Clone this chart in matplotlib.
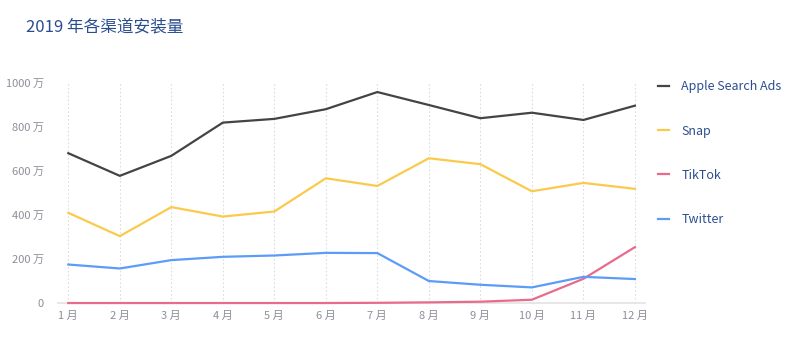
import matplotlib
matplotlib.use('Agg')
from matplotlib import pyplot as plt

plt.rcParams['font.family'] = ['Noto Sans CJK SC', 'DejaVu Sans']

months = ['1 月', '2 月', '3 月', '4 月', '5 月', '6 月',
          '7 月', '8 月', '9 月', '10 月', '11 月', '12 月']
apple = [681, 578, 669, 820, 837, 881, 959, 900, 840, 865, 832, 897]
snap = [410, 304, 436, 393, 416, 567, 532, 658, 631, 508, 546, 519]
tiktok = [0, 0, 0, 0, 0, 0, 1, 3, 6, 15, 110, 254]
twitter = [175, 157, 195, 210, 216, 228, 227, 100, 83, 71, 119, 109]
yticks = [0, 200, 400, 600, 800, 1000]
ytick_labels = ['0', '200 万', '400 万', '600 万', '800 万', '1000 万']

series = [('Apple Search Ads', apple, '#444444'),
          ('Snap', snap, '#fbca4c'),
          ('TikTok', tiktok, '#e96b8b'),
          ('Twitter', twitter, '#5c9cf9')]

fig = plt.figure(figsize=(8, 3.54), dpi=100)
ax = fig.add_axes([0.0725, 0.144, 0.734, 0.6215])

x = list(range(len(months)))
for name, vals, color in series:
    ax.plot(x, vals, color=color, linewidth=1.6, label=name,
            zorder=4, clip_on=False)

ax.set_xlim(-0.2, 11.2)
ax.set_ylim(0, 1000)
ax.set_xticks(x)
ax.set_xticklabels(months)
ax.set_yticks(yticks)
ax.set_yticklabels(ytick_labels)
ax.tick_params(axis='both', length=0, labelsize=8, colors='#8e8e9a', pad=6)
ax.tick_params(axis='y', pad=10)
ax.grid(axis='x', color='#dddddd', linestyle=(0, (1.5, 2)), linewidth=0.8)
for side in ['top', 'right', 'left']:
    ax.spines[side].set_visible(False)
ax.spines['bottom'].set_color('#e3e3e3')
ax.spines['bottom'].set_linewidth(1.2)
ax.spines['bottom'].set_zorder(1)

fig.text(0.032, 0.925, '2019 年各渠道安装量', fontsize=12, color='#2b4d8f',
         ha='left', va='center', fontweight='medium')

leg = ax.legend(loc='upper left', bbox_to_anchor=(0.808, 0.805),
                bbox_transform=fig.transFigure, frameon=False,
                handlelength=0.9, handletextpad=1.0, labelspacing=2.5,
                fontsize=9)
for t in leg.get_texts():
    t.set_color('#2b4d8f')
    t.set_fontweight('medium')

fig.savefig('out.png', dpi=100)
